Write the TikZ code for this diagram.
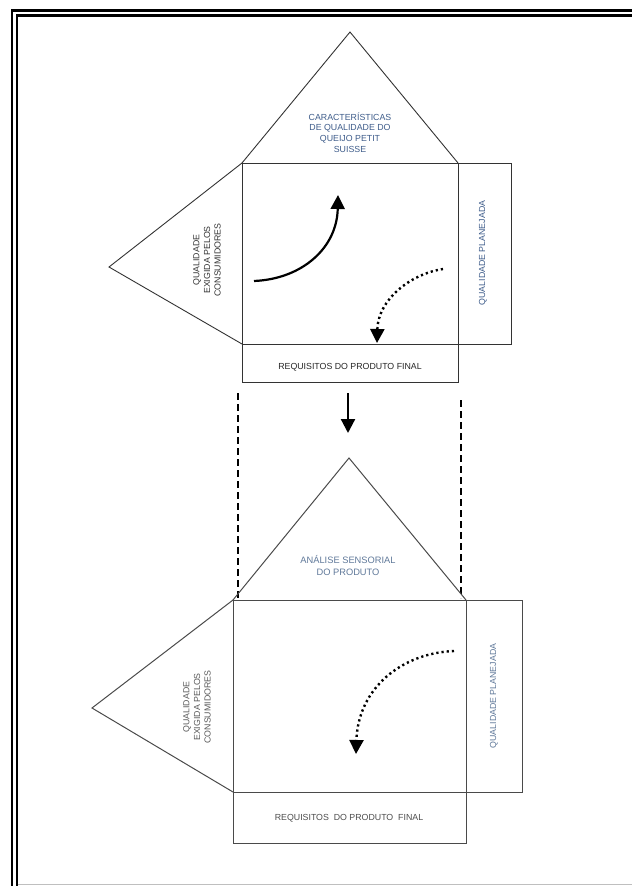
\documentclass[tikz,border=0pt]{standalone}
\usepackage{fontspec}
\setmainfont{Liberation Sans}
\usetikzlibrary{arrows.meta}
\definecolor{qblue}{HTML}{3E5C8A}
\definecolor{qblueB}{HTML}{5F7899}
\definecolor{qline}{HTML}{333333}
\definecolor{qlineB}{HTML}{4A4A4A}
\tikzset{
  shapeA/.style={draw=qline, line width=0.9pt, line join=miter},
  shapeB/.style={draw=qlineB, line width=1pt, line join=miter},
  lbl/.style={inner sep=0pt, align=center, font=\fontsize{8.8}{10.7}\selectfont},
  bigtip/.style={-{Triangle[length=14pt,width=14pt]}},
  solidarrow/.style={bigtip, line width=2.2pt, black},
  dotarrow/.style={bigtip, line width=2.4pt, black, dash pattern=on 2.2pt off 3pt},
  guide/.style={black, line width=2pt, dash pattern=on 7pt off 4pt},
  frame/.style={black, line width=2.6pt}
}
\begin{document}
\begin{tikzpicture}[x=1pt,y=-1pt]
\useasboundingbox (0,0) rectangle (632,886);
% frame
\draw[frame] (12,886) -- (12,10.5) -- (632,10.5);
\draw[frame] (17,886) -- (17,15.5) -- (632,15.5);
\draw[black!25, line width=1.5pt] (18,884.5) -- (632,884.5);

% ---------- top house ----------
\coordinate (tA) at (350,32);
\coordinate (tNW) at (242,163);
\coordinate (tNE) at (458,163);
\coordinate (tSW) at (242,344);
\coordinate (tSE) at (458,344);
\coordinate (tL) at (109,267);
\coordinate (tRE) at (511,163);
\coordinate (tRS) at (511,344);
\coordinate (tBW) at (242,382);
\coordinate (tBE) at (458,382);
\draw[shapeA] (tNW) -- (tA) -- (tNE);
\draw[shapeA] (tNW) rectangle (tSE);
\draw[shapeA] (tNE) -- (tRE) -- (tRS) -- (tSE);
\draw[shapeA] (tNW) -- (tL) -- (tSW);
\draw[shapeA] (tSW) -- (tBW) -- (tBE) -- (tSE);

\node[lbl, text=qblue] (tcar) at (350,132.5) {CARACTERÍSTICAS\\DE QUALIDADE DO\\QUEIJO PETIT\\SUISSE};
\node[lbl, text=qline, rotate=90] (tqual) at (207,260) {QUALIDADE\\EXIGIDA PELOS\\CONSUMIDORES};
\node[lbl, text=qblue, rotate=90] (tplan) at (483,253) {QUALIDADE PLANEJADA};
\node[lbl, text=black!85] (treq) at (350,367) {REQUISITOS DO PRODUTO FINAL};

\coordinate (s1) at (254,281);
\coordinate (s2) at (338,195);
\draw[solidarrow] (s1) .. controls (302,279) and (337,248) .. (s2);
\coordinate (d1) at (443,269);
\coordinate (d2) at (377,343);
\draw[dotarrow] (d1) .. controls (410,274) and (378,300) .. (d2);

% ---------- middle ----------
\coordinate (m1) at (348,393);
\coordinate (m2) at (348,433);
\draw[solidarrow] (m1) -- (m2);
\coordinate (gl1) at (238,393);
\coordinate (gl2) at (238,598);
\coordinate (gr1) at (461,400);
\coordinate (gr2) at (461,598);
\draw[guide] (gl1) -- (gl2);
\draw[guide] (gr1) -- (gr2);

% ---------- bottom house ----------
\coordinate (bA) at (349,458);
\coordinate (bNW) at (233,600);
\coordinate (bNE) at (466,600);
\coordinate (bSW) at (233,792);
\coordinate (bSE) at (466,792);
\coordinate (bL) at (92,708);
\coordinate (bRE) at (522,600);
\coordinate (bRS) at (522,792);
\coordinate (bBW) at (233,843);
\coordinate (bBE) at (466,843);
\draw[shapeB] (bNW) -- (bA) -- (bNE);
\draw[shapeB] (bNW) rectangle (bSE);
\draw[shapeB] (bNE) -- (bRE) -- (bRS) -- (bSE);
\draw[shapeB] (bNW) -- (bL) -- (bSW);
\draw[shapeB] (bSW) -- (bBW) -- (bBE) -- (bSE);

\node[lbl, text=qblueB, font=\fontsize{9.3}{12}\selectfont] (bana) at (348,566) {ANÁLISE SENSORIAL\\DO PRODUTO};
\node[lbl, text=black!65, rotate=90] (bqual) at (197,707) {QUALIDADE\\EXIGIDA PELOS\\CONSUMIDORES};
\node[lbl, text=qblueB, rotate=90] (bplan) at (494,696) {QUALIDADE PLANEJADA};
\node[lbl, text=black!70] (breq) at (349,818) {REQUISITOS\ \ DO PRODUTO\ \ FINAL};

\coordinate (e1) at (454,651);
\coordinate (e2) at (356,754);
\draw[dotarrow] (e1) .. controls (402,653) and (358,688) .. (e2);
\end{tikzpicture}
\end{document}
